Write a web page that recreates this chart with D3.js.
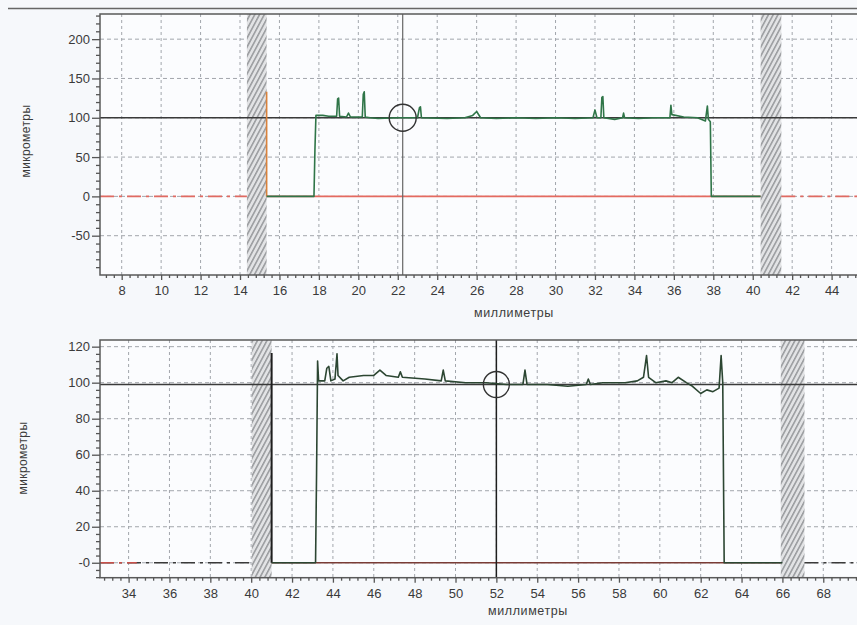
<!DOCTYPE html>
<html><head><meta charset="utf-8">
<script src="https://cdn.jsdelivr.net/npm/d3@7"></script>
<style>html,body{margin:0;padding:0;background:#f6f8fb;}svg{display:block;}</style>
</head><body>
<div id="chart"></div>
<script>
// ---------- DATA ----------
const xTitle = "миллиметры";
const yTitle = "микрометры";

// Top panel
const topXTicks = [8,10,12,14,16,18,20,22,24,26,28,30,32,34,36,38,40,42,44];
const topYTicks = [-50,0,50,100,150,200];
const topBands = [[14.35,15.35],[40.4,41.45]];
const topCursorX = 22.25;
const topRefY = 100;
const topEdgeX = [15.35,15.35];
const topEdgeY = [0,133];
const topProfileX = [15.35,17.75,17.8,17.85,18.2,18.5,18.9,18.95,19.0,19.05,19.4,19.5,19.6,20.2,20.25,20.3,20.35,20.6,21.0,22.0,23.0,23.1,23.15,23.2,24.5,25.4,25.8,26.0,26.2,27.0,28.0,29.0,30.0,31.0,31.9,32.0,32.1,32.3,32.35,32.4,32.45,33.0,33.4,33.45,33.5,34.2,35.0,35.8,35.85,35.9,36.5,37.2,37.6,37.7,37.75,37.85,37.9,40.4];
const topProfileY = [0,0,60,103,103,102,102,124,125,102,101,106,101,101,130,133,101,100,99,100,100,113,114,100,99,100,103,108,100,99,100,99,100,99,100,110,100,100,126,127,100,98,100,106,100,99,100,100,116,104,101,100,96,115,98,95,0,0];

// Bottom panel
const botXTicks = [34,36,38,40,42,44,46,48,50,52,54,56,58,60,62,64,66,68,70];
const botYTicks = [0,20,40,60,80,100,120];
const botYTickLabels = ["-0","20","40","60","80","100","120"];
const botBands = [[40.03,41.0],[65.92,67.08]];
const botCursorX = 52;
const botRefY = 99;
const botEdgeX = [41.0,41.0];
const botEdgeY = [0,116.5];
const botProfileX = [41.0,43.15,43.2,43.25,43.3,43.6,43.7,43.8,43.9,44.1,44.2,44.25,44.5,44.8,45.5,46.0,46.3,46.6,47.2,47.3,47.4,48.5,49.3,49.4,49.5,50.5,51.5,52.5,53.3,53.4,53.5,54.5,55.5,56.4,56.5,56.6,57.2,58.3,58.9,59.2,59.35,59.45,59.8,60.3,60.6,60.9,61.3,61.6,62.0,62.3,62.6,62.9,63.0,63.08,63.15,66.0];
const botProfileY = [0,0,50,112,101,101,108,109,101,102,116,104,101,103,104,104,107,104,103,106,103,102,101,107,101,100,100,99,99,107,99,99,98,99,102,99,100,100,101,103,115,103,100,101,100,103,100,98,94,96,95,97,115,100,0,0];

// ---------- DRAW ----------
const W = 857, H = 625;
const FONT = "Liberation Sans, Arial, sans-serif";
const svg = d3.select("#chart").append("svg").attr("width", W).attr("height", H);
svg.append("rect").attr("width", W).attr("height", H).attr("fill", "#f6f8fb");

const defs = svg.append("defs");
const pat = defs.append("pattern").attr("id", "hatch").attr("patternUnits", "userSpaceOnUse")
  .attr("width", 4.2).attr("height", 4.2).attr("patternTransform", "rotate(28)");
pat.append("rect").attr("width", 4.2).attr("height", 4.2).attr("fill", "#e2e3e5");
pat.append("line").attr("x1", 0.8).attr("y1", 0).attr("x2", 0.8).attr("y2", 4.2).attr("stroke", "#7c7e82").attr("stroke-width", 1.1);

// line across the top of the page
svg.append("line").attr("x1", 8).attr("x2", W).attr("y1", 8.5).attr("y2", 8.5).attr("stroke", "#666").attr("stroke-width", 1.5);

function panel(cfg) {
  const x = d3.scaleLinear().domain(cfg.xDomain).range(cfg.xRange);
  const y = d3.scaleLinear().domain(cfg.yDomain).range(cfg.yRange);
  const g = svg.append("g");
  const [x0, x1] = cfg.xRange, [y0, y1] = [cfg.yRange[1], cfg.yRange[0]];
  const clipId = "clip" + cfg.id;
  defs.append("clipPath").attr("id", clipId).append("rect")
    .attr("x", x0).attr("y", y0).attr("width", x1 - x0).attr("height", y1 - y0);

  g.append("rect").attr("x", x0).attr("y", y0).attr("width", x1 - x0).attr("height", y1 - y0).attr("fill", "#fbfcfe");

  const pg = g.append("g").attr("clip-path", `url(#${clipId})`);
  // grid
  pg.selectAll(".gx").data(cfg.xTicks).join("line")
    .attr("x1", d => x(d)).attr("x2", d => x(d)).attr("y1", y0).attr("y2", y1)
    .attr("stroke", "#a2a6ac").attr("stroke-width", 1).attr("stroke-dasharray", "3,3");
  pg.selectAll(".gy").data(cfg.yTicks).join("line")
    .attr("x1", x0).attr("x2", x1).attr("y1", d => y(d)).attr("y2", d => y(d))
    .attr("stroke", "#a2a6ac").attr("stroke-width", 1).attr("stroke-dasharray", "4,3");
  // hatch bands
  pg.selectAll(".band").data(cfg.bands).join("rect")
    .attr("x", d => x(d[0])).attr("width", d => x(d[1]) - x(d[0]))
    .attr("y", y0).attr("height", y1 - y0).attr("fill", "url(#hatch)");
  // zero line pieces
  const bandL = cfg.bands[0], bandR = cfg.bands[1];
  pg.append("line").attr("x1", x(cfg.xDomain[0])).attr("x2", x(bandL[0])).attr("y1", y(0)).attr("y2", y(0))
    .attr("stroke", cfg.zeroDashColor).attr("stroke-width", 1.6).attr("stroke-dasharray", "14,5,3,5");
  if (cfg.zeroDashRedEnd) {
    pg.append("line").attr("x1", x(cfg.xDomain[0])).attr("x2", x(cfg.zeroDashRedEnd)).attr("y1", y(0)).attr("y2", y(0))
      .attr("stroke", "#c9504a").attr("stroke-width", 1.6).attr("stroke-dasharray", "14,5,3,5");
  }
  pg.append("line").attr("x1", x(bandR[1])).attr("x2", x(cfg.xDomain[1])).attr("y1", y(0)).attr("y2", y(0))
    .attr("stroke", cfg.zeroDashColor).attr("stroke-width", 1.6).attr("stroke-dasharray", "14,5,3,5");
  pg.append("line").attr("x1", x(bandL[1])).attr("x2", x(bandR[0])).attr("y1", y(0)).attr("y2", y(0))
    .attr("stroke", cfg.zeroSolidColor).attr("stroke-width", 1.6);
  // reference line
  pg.append("line").attr("x1", x0).attr("x2", x1).attr("y1", y(cfg.refY)).attr("y2", y(cfg.refY))
    .attr("stroke", "#3a3a3a").attr("stroke-width", 1.3);
  // cursor
  pg.append("line").attr("x1", x(cfg.cursorX)).attr("x2", x(cfg.cursorX)).attr("y1", y0).attr("y2", y1)
    .attr("stroke", cfg.cursorColor).attr("stroke-width", cfg.cursorWidth);
  // edge line
  pg.append("line").attr("x1", x(cfg.edgeX[0])).attr("x2", x(cfg.edgeX[1])).attr("y1", y(cfg.edgeY[0])).attr("y2", y(cfg.edgeY[1]))
    .attr("stroke", cfg.edgeColor).attr("stroke-width", cfg.edgeWidth);
  // profile
  const pts = cfg.px.map((v, i) => [v, cfg.py[i]]);
  pg.append("path").datum(pts).attr("fill", "none")
    .attr("stroke", cfg.profileColor).attr("stroke-width", 1.6).attr("stroke-linejoin", "round")
    .attr("d", d3.line().x(d => x(d[0])).y(d => y(d[1])));
  // circle marker
  pg.append("circle").attr("cx", x(cfg.cursorX)).attr("cy", y(cfg.refY)).attr("r", cfg.circleR)
    .attr("fill", "none").attr("stroke", "#333").attr("stroke-width", 1.4);

  // frame
  g.append("rect").attr("x", x0).attr("y", y0).attr("width", x1 - x0).attr("height", y1 - y0)
    .attr("fill", "none").attr("stroke", "#5a5a5a").attr("stroke-width", 1.5);

  // axes
  const xa = g.append("g").attr("transform", `translate(0,${y1})`)
    .call(d3.axisBottom(x).tickValues(cfg.xTicks).tickSize(5).tickPadding(6).tickFormat(d3.format("d")));
  const xm = g.append("g").attr("transform", `translate(0,${y1})`)
    .call(d3.axisBottom(x).tickValues(cfg.xMinor).tickSize(3).tickFormat(""));
  const ya = g.append("g").attr("transform", `translate(${x0},0)`)
    .call(d3.axisLeft(y).tickValues(cfg.yTicks).tickSize(8).tickPadding(2).tickFormat((d, i) => cfg.yLabels[i]));
  const ym = g.append("g").attr("transform", `translate(${x0},0)`)
    .call(d3.axisLeft(y).tickValues(cfg.yMinor).tickSize(4).tickFormat(""));
  [xa, xm, ya, ym].forEach(a => {
    a.select(".domain").remove();
    a.selectAll(".tick line").attr("stroke", "#555").attr("stroke-width", 1.3);
    a.selectAll("text").attr("fill", "#3a3a3a").attr("font-family", FONT).attr("font-size", 13);
  });

  g.append("text").attr("x", cfg.xTitlePos[0]).attr("y", cfg.xTitlePos[1]).attr("text-anchor", "middle")
    .attr("font-family", FONT).attr("font-size", 12.5).attr("letter-spacing", 0.6).attr("fill", "#3c3c3c").text(xTitle);
  g.append("text").attr("transform", `translate(${cfg.yTitlePos[0]},${cfg.yTitlePos[1]}) rotate(-90)`).attr("text-anchor", "middle")
    .attr("font-family", FONT).attr("font-size", 12).attr("letter-spacing", 0.4).attr("fill", "#3c3c3c").text(yTitle);
}

function minors(lo, hi, step, majors) {
  const out = [];
  for (let v = lo; v <= hi + 1e-9; v += step) {
    const r = Math.round(v * 100) / 100;
    if (!majors.some(m => Math.abs(m - r) < 1e-6)) out.push(r);
  }
  return out;
}

panel({
  id: "top",
  xDomain: [6.9, 46.9], xRange: [100, 888.8],
  yDomain: [-100, 232], yRange: [275, 14],
  xTicks: topXTicks, yTicks: topYTicks, yLabels: topYTicks.map(String),
  xMinor: minors(7.2, 46.8, 0.4, topXTicks.concat([46])), yMinor: minors(-90, 230, 10, topYTicks),
  bands: topBands, refY: topRefY, cursorX: topCursorX, cursorColor: "#666", cursorWidth: 1.2,
  edgeX: topEdgeX, edgeY: topEdgeY, edgeColor: "#d9823b", edgeWidth: 1.6,
  px: topProfileX, py: topProfileY, profileColor: "#2f7548",
  zeroDashColor: "#e06a62", zeroSolidColor: "#e46a60", zeroDashRedEnd: null,
  circleR: 13.5, xTitlePos: [514, 317], yTitlePos: [30, 141]
});

panel({
  id: "bot",
  xDomain: [32.6, 72], xRange: [100, 905],
  yDomain: [-8.3, 123.7], yRange: [577.7, 340],
  xTicks: botXTicks, yTicks: botYTicks, yLabels: botYTickLabels,
  xMinor: minors(32.8, 71.6, 0.4, botXTicks), yMinor: minors(-8, 123, 4, botYTicks),
  bands: botBands, refY: botRefY, cursorX: botCursorX, cursorColor: "#1e1e1e", cursorWidth: 1.5,
  edgeX: botEdgeX, edgeY: botEdgeY, edgeColor: "#1e1e1e", edgeWidth: 2,
  px: botProfileX, py: botProfileY, profileColor: "#2c4632",
  zeroDashColor: "#3a3a3a", zeroSolidColor: "#7a3c36", zeroDashRedEnd: 34.4,
  circleR: 13, xTitlePos: [528, 615], yTitlePos: [27, 458]
});
</script>
</body></html>
